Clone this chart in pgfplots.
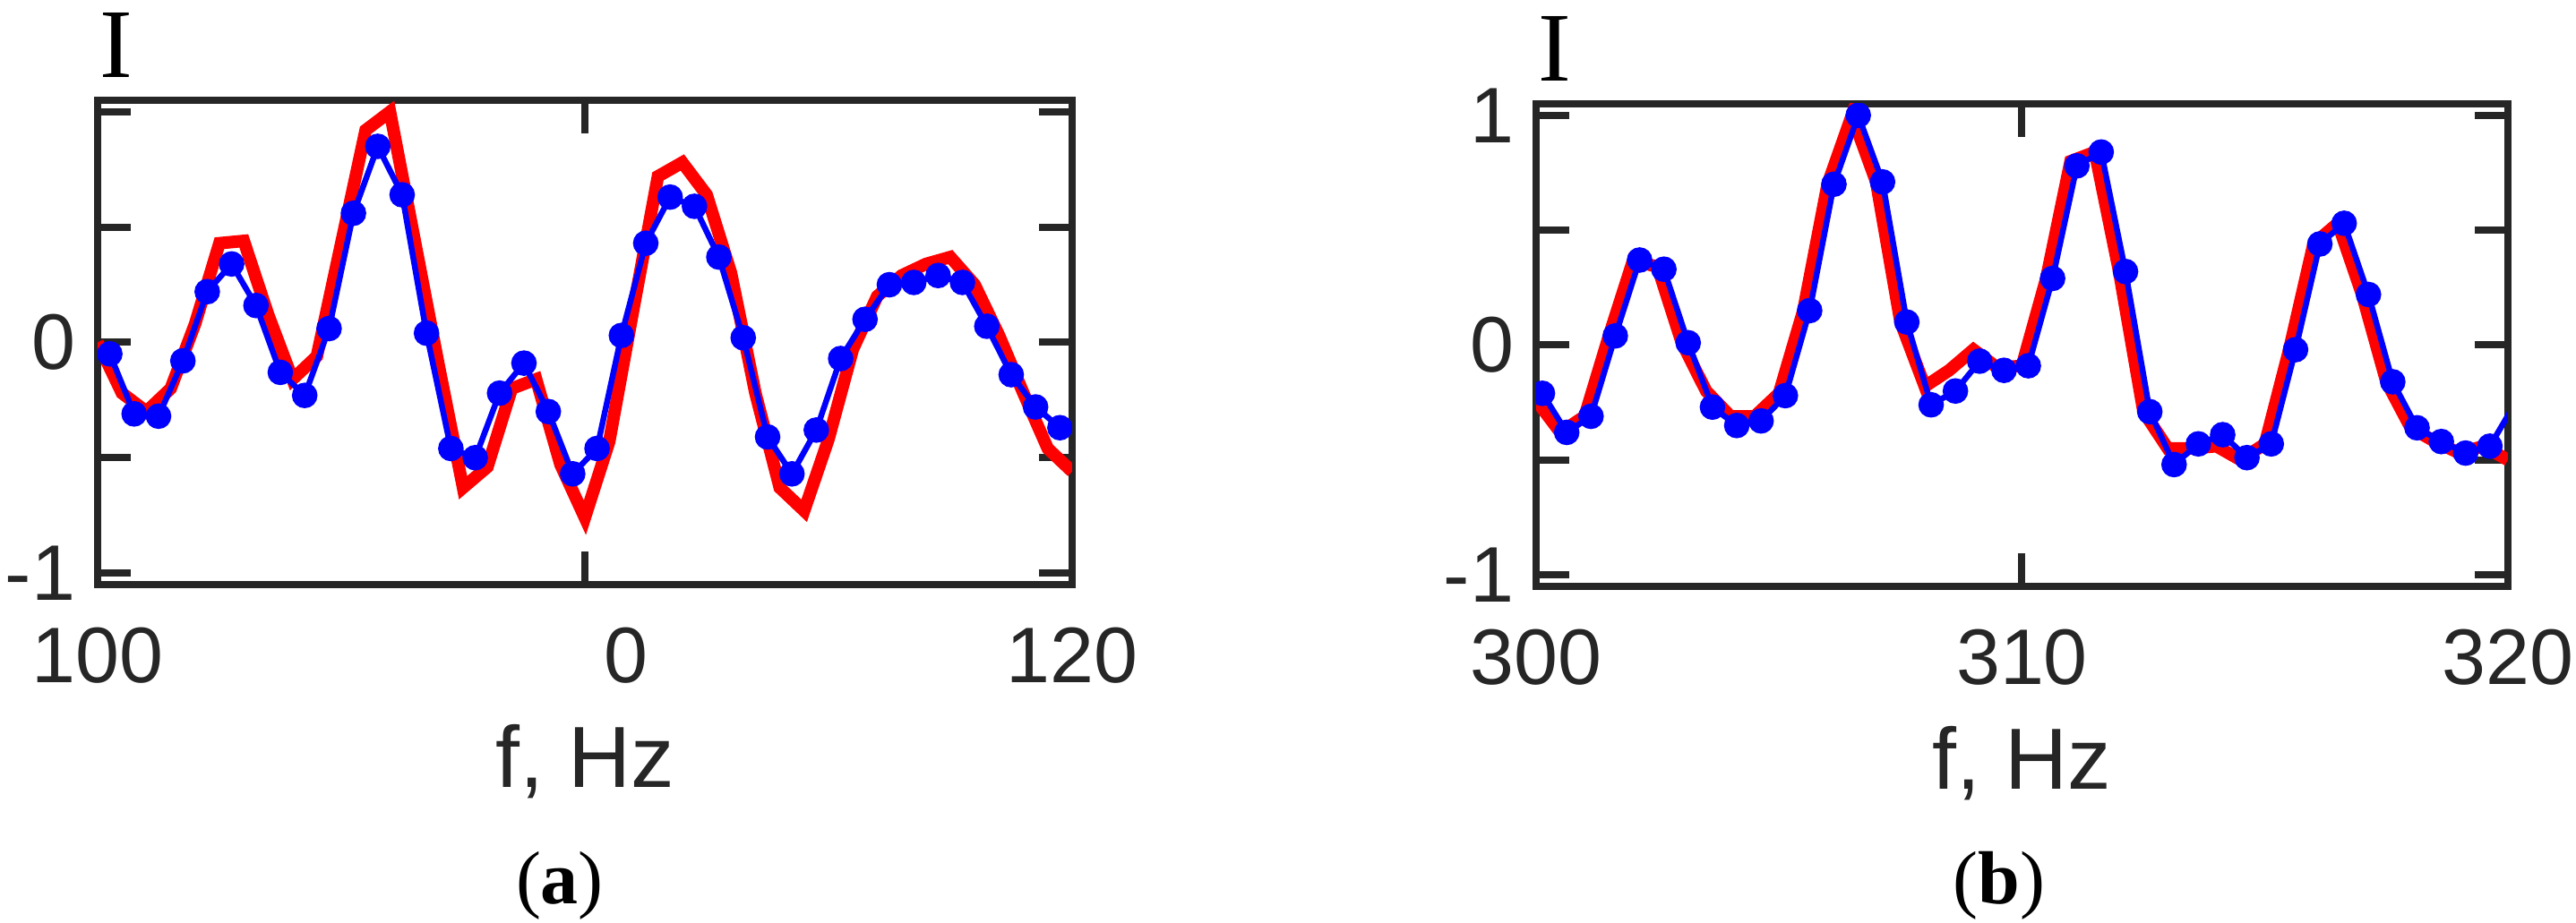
\documentclass[border=0pt]{standalone}
\usepackage{fontspec}
\setmainfont{Liberation Sans}
\newfontfamily\timesfont{Liberation Serif}
\usepackage{pgfplots}
\pgfplotsset{compat=1.18}
\definecolor{axgray}{RGB}{38,38,38}

% 1 px of the reference = 0.1pt
\pgfplotsset{panel/.style={
  scale only axis, width=108.8pt, height=54.1pt,
  ymin=-1.05, ymax=1.05,
  axis line style={axgray, line width=0.8pt},
  every tick/.style={axgray, line width=0.8pt},
  major tick length=3.7pt,
  tick align=inside, tick pos=both, ticklabel pos=left,
  ytick={-1,-0.5,0,0.5,1},
  xticklabel style={font=\fontsize{8.8}{10}\selectfont, text=axgray, anchor=base, yshift=-11pt, inner sep=0pt},
  yticklabel style={font=\fontsize{8.8}{10}\selectfont, text=axgray, anchor=east, inner sep=0pt, xshift=-2.3pt},
  xlabel={f, Hz},
  xlabel style={font=\fontsize{9.7}{11}\selectfont, text=axgray, at={(axis description cs:0.5,0)}, anchor=base, yshift=-22.7pt, inner sep=0pt},
  clip marker paths=true,
},
redline/.style={red, line width=1.4pt, no marks},
blueline/.style={blue, line width=0.65pt, mark=*, mark size=1.1pt, mark options={fill=blue, draw=blue}},
}

\begin{document}
\begin{tikzpicture}
\useasboundingbox (0,0) rectangle (287.6pt,103.1pt);

\begin{axis}[panel, name=pa, at={(10.9pt,37.8pt)}, anchor=south west,
  xmin=100, xmax=120, xtick={100,110,120},
  xticklabels={100,\phantom{11}0,120},
  yticklabels={-1,,0,,}]
\addplot[redline] coordinates {
(100.0,0.00) (100.5,-0.22) (101.0,-0.30) (101.5,-0.20) (102.0,0.08) (102.5,0.43)
(103.0,0.44) (103.5,0.12) (104.0,-0.16) (104.5,-0.06) (105.0,0.43) (105.5,0.92)
(106.0,1.00) (106.5,0.45) (107.0,-0.10) (107.5,-0.63) (108.0,-0.54) (108.5,-0.20)
(109.0,-0.16) (109.5,-0.53) (110.0,-0.76) (110.5,-0.43) (111.0,0.15) (111.5,0.72)
(112.0,0.78) (112.5,0.64) (113.0,0.30) (113.5,-0.22) (114.0,-0.63) (114.5,-0.73)
(115.0,-0.42) (115.5,-0.03) (116.0,0.20) (116.5,0.29) (117.0,0.34) (117.5,0.37)
(118.0,0.25) (118.5,0.03) (119.0,-0.22) (119.5,-0.46) (120.0,-0.56)};
\addplot[blueline] coordinates {
(100.25,-0.05) (100.75,-0.31) (101.25,-0.32) (101.75,-0.08) (102.25,0.22) (102.75,0.34)
(103.25,0.16) (103.75,-0.13) (104.25,-0.23) (104.75,0.06) (105.25,0.56) (105.75,0.85)
(106.25,0.64) (106.75,0.04) (107.25,-0.46) (107.75,-0.50) (108.25,-0.22) (108.75,-0.09)
(109.25,-0.30) (109.75,-0.57) (110.25,-0.46) (110.75,0.03) (111.25,0.43) (111.75,0.63)
(112.25,0.59) (112.75,0.37) (113.25,0.02) (113.75,-0.41) (114.25,-0.57) (114.75,-0.38)
(115.25,-0.07) (115.75,0.10) (116.25,0.25) (116.75,0.26) (117.25,0.29) (117.75,0.26)
(118.25,0.07) (118.75,-0.14) (119.25,-0.28) (119.75,-0.37)};
\end{axis}

\begin{axis}[panel, name=pb, at={(171.5pt,37.6pt)}, anchor=south west,
  width=108.5pt, height=53.9pt,
  xmin=300, xmax=320, xtick={300,310,320},
  xticklabels={300,310,320},
  yticklabels={-1,,0,,1}]
\addplot[redline] coordinates {
(300.0,-0.24) (300.5,-0.38) (301.0,-0.31) (301.5,0.04) (302.0,0.37) (302.5,0.34)
(303.0,0.01) (303.5,-0.20) (304.0,-0.31) (304.5,-0.31) (305.0,-0.21) (305.5,0.15)
(306.0,0.70) (306.5,1.00) (307.0,0.71) (307.5,0.10) (308.0,-0.18) (308.5,-0.11)
(309.0,-0.02) (309.5,-0.10) (310.0,-0.09) (310.5,0.29) (311.0,0.80) (311.5,0.84)
(312.0,0.32) (312.5,-0.29) (313.0,-0.45) (313.5,-0.45) (314.0,-0.44) (314.5,-0.50)
(315.0,-0.43) (315.5,-0.02) (316.0,0.44) (316.5,0.53) (317.0,0.22) (317.5,-0.16)
(318.0,-0.36) (318.5,-0.42) (319.0,-0.47) (319.5,-0.44) (320.0,-0.50)};
\addplot[blue, line width=0.65pt, no marks] coordinates {(319.63,-0.44) (320.13,-0.26)};
\addplot[blueline] coordinates {
(300.13,-0.21) (300.63,-0.38) (301.13,-0.31) (301.63,0.04) (302.13,0.37) (302.63,0.33)
(303.13,0.01) (303.63,-0.27) (304.13,-0.35) (304.63,-0.33) (305.13,-0.22) (305.63,0.15)
(306.13,0.70) (306.63,1.00) (307.13,0.71) (307.63,0.10) (308.13,-0.26) (308.63,-0.20)
(309.13,-0.07) (309.63,-0.11) (310.13,-0.09) (310.63,0.29) (311.13,0.78) (311.63,0.84)
(312.13,0.32) (312.63,-0.29) (313.13,-0.52) (313.63,-0.43) (314.13,-0.39) (314.63,-0.49)
(315.13,-0.43) (315.63,-0.02) (316.13,0.44) (316.63,0.53) (317.13,0.22) (317.63,-0.16)
(318.13,-0.36) (318.63,-0.42) (319.13,-0.47) (319.63,-0.44)};
\end{axis}

\node[anchor=base west, inner sep=0pt, font=\timesfont\fontsize{11}{12}\selectfont]
  at ([xshift=0.1pt, yshift=2.5pt]pa.north west) {I};
\node[anchor=base west, inner sep=0pt, font=\timesfont\fontsize{11}{12}\selectfont]
  at ([xshift=0.1pt, yshift=2.5pt]pb.north west) {I};
\node[anchor=base, inner sep=0pt, font=\timesfont\fontsize{8.4}{10}\selectfont]
  at (62.5pt,2.1pt) {(\textbf{a})};
\node[anchor=base, inner sep=0pt, font=\timesfont\fontsize{8.4}{10}\selectfont]
  at (223.2pt,2.1pt) {(\textbf{b})};
\end{tikzpicture}
\end{document}
